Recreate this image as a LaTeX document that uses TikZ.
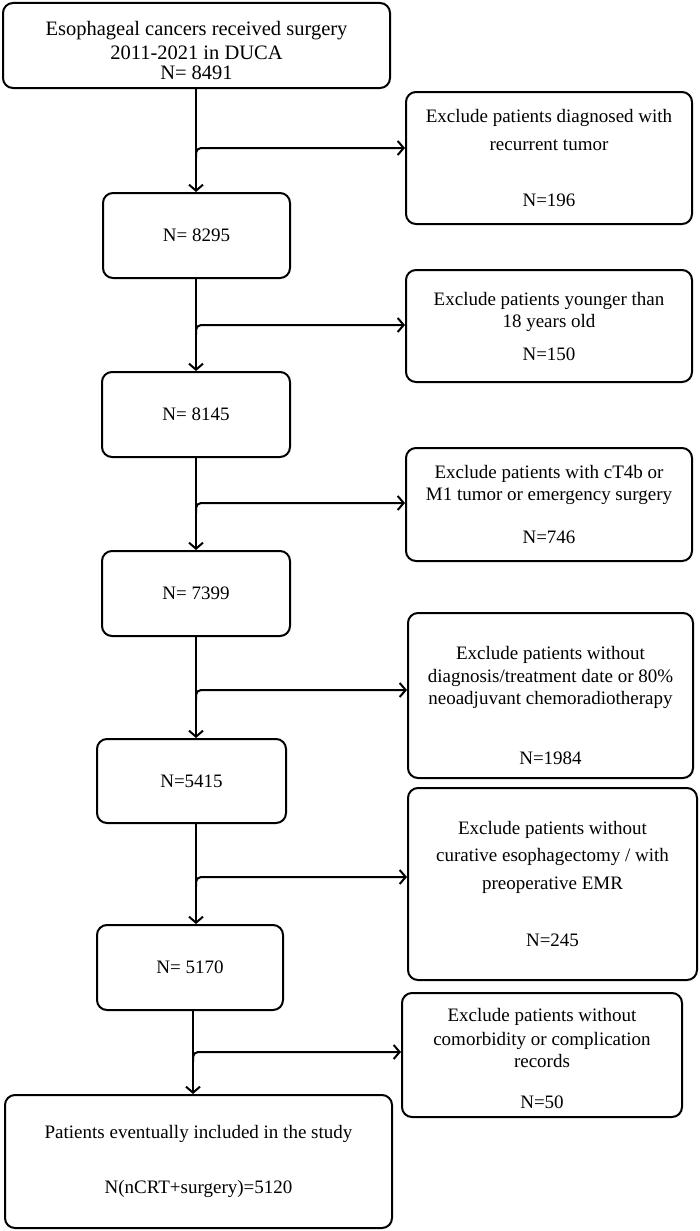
\documentclass[tikz,border=0pt]{standalone}
\usepackage{fontspec}
\setmainfont{Liberation Serif}
\usetikzlibrary{arrows.meta}
\begin{document}
\begin{tikzpicture}[x=1pt,y=-1pt,
  box/.style={draw,line width=2pt,rounded corners=10pt,align=center,font=\fontsize{19}{22}\selectfont,inner sep=0pt},
  arr/.style={line width=2pt,-{Straight Barb[length=6pt,width=14pt,line width=2pt]}},
  br/.style={line width=2pt,rounded corners=5pt,-{Straight Barb[length=6pt,width=14pt,line width=2pt]}}]
\useasboundingbox (0,0) rectangle (700,1231);
\node[box,font=\fontsize{20.5}{23}\selectfont,minimum width=387pt,minimum height=85pt] (b1) at (196.5,45.5) {\rule{0pt}{25pt}Esophageal cancers received surgery\\[1pt]2011-2021 in DUCA\\[-3pt]N= 8491};
\node[box,minimum width=187pt,minimum height=85pt] (b2) at (196.5,235.5) {N= 8295};
\node[box,minimum width=188pt,minimum height=85pt] (b3) at (196,414.5) {N= 8145};
\node[box,minimum width=188pt,minimum height=85pt] (b4) at (196,593.5) {N= 7399};
\node[box,minimum width=189pt,minimum height=84pt] (b5) at (191.5,781) {N=5415};
\node[box,minimum width=186pt,minimum height=85pt] (b6) at (190,967.5) {N= 5170};
\node[box,minimum width=387pt,minimum height=133pt] (b7) at (198.5,1161.5) {Patients eventually included in the study\\[33pt]N(nCRT+surgery)=5120};
\node[box,minimum width=286pt,minimum height=132pt] (r1) at (549,158) {Exclude patients diagnosed with\\[6pt]recurrent tumor\\[34pt]N=196};
\node[box,minimum width=286pt,minimum height=112pt] (r2) at (549,326) {Exclude patients younger than\\18 years old\\[11pt]N=150};
\node[box,minimum width=286pt,minimum height=113pt] (r3) at (549,504.5) {Exclude patients with cT4b or\\M1 tumor or emergency surgery\\[21pt]N=746};
\node[box,minimum width=285pt,minimum height=165pt] (r4) at (550.5,695.5) {\rule{0pt}{33pt}Exclude patients without\\[1pt]diagnosis/treatment date or 80\%\\neoadjuvant chemoradiotherapy\\[38pt]N=1984};
\node[box,minimum width=289pt,minimum height=192pt] (r5) at (552.5,884) {Exclude patients without\\[5pt]curative esophagectomy / with\\[6pt]preoperative EMR\\[35pt]N=245};
\node[box,minimum width=280pt,minimum height=124pt] (r6) at (542,1055) {\rule{0pt}{20pt}Exclude patients without\\[2pt]comorbidity or complication\\records\\[19pt]N=50};
\coordinate (s1) at (196,148);
\coordinate (s2) at (196,325);
\coordinate (s3) at (196,503);
\coordinate (s4) at (196,690);
\coordinate (s5) at (196,877);
\coordinate (s6) at (193,1052);
\draw[arr] (b1.south-|s1) -- (b2.north-|s1);
\draw[arr] (b2.south-|s2) -- (b3.north-|s2);
\draw[arr] (b3.south-|s3) -- (b4.north-|s3);
\draw[arr] (b4.south-|s4) -- (b5.north-|s4);
\draw[arr] (b5.south-|s5) -- (b6.north-|s5);
\draw[arr] (b6.south-|s6) -- (b7.north-|s6);
\draw[br] ([yshift=-10pt]s1) -- (s1) -- (r1.west|-s1);
\draw[br] ([yshift=-10pt]s2) -- (s2) -- (r2.west|-s2);
\draw[br] ([yshift=-10pt]s3) -- (s3) -- (r3.west|-s3);
\draw[br] ([yshift=-10pt]s4) -- (s4) -- (r4.west|-s4);
\draw[br] ([yshift=-10pt]s5) -- (s5) -- (r5.west|-s5);
\draw[br] ([yshift=-10pt]s6) -- (s6) -- (r6.west|-s6);
\end{tikzpicture}
\end{document}
